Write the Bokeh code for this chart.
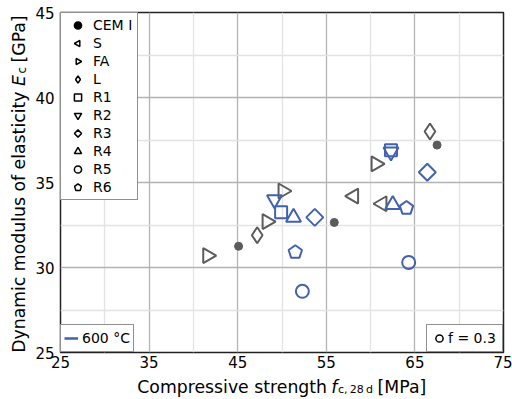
import numpy as np
from bokeh.plotting import figure
from bokeh.layouts import row, column
from bokeh.models import Range1d, FixedTicker, Legend, LegendItem
from bokeh.core.properties import value
from bokeh.embed import file_html
from bokeh.resources import INLINE

# ---- data ----
x_ticks = [25, 35, 45, 55, 65, 75]
x_minor = [30, 40, 50, 60, 70]
y_ticks = [25, 30, 35, 40, 45]
y_minor = [27.5, 32.5, 37.5, 42.5]

cem_x = [45.1, 55.9, 67.5]
cem_y = [31.25, 32.65, 37.2]
s_x = [58.1, 61.3]
s_y = [34.2, 33.75]
fa_x = [41.6, 48.3, 50.1, 60.6]
fa_y = [30.7, 32.7, 34.5, 36.1]
l_x = [47.2, 66.7]
l_y = [31.9, 38.0]
r1_x = [49.9, 62.3]
r1_y = [33.25, 36.9]
r2_x = [49.15, 62.3]
r2_y = [34.0, 36.8]
r3_x = [53.7, 66.4]
r3_y = [32.95, 35.6]
r4_x = [51.3, 62.5]
r4_y = [32.95, 33.7]
r5_x = [52.3, 64.3]
r5_y = [28.6, 30.3]
r6_x = [51.5, 64.05]
r6_y = [30.9, 33.5]

legend_labels = ["CEM I", "S", "FA", "L", "R1", "R2", "R3", "R4", "R5", "R6"]

GRAY = "#5b5b5b"
BLUE = "#4262ad"
FONT = "DejaVu Sans"
LW = 2
NAN = [float("nan")]

# ---- main plot ----
p = figure(width=482, height=374, output_backend="svg", toolbar_location=None,
           title=None, x_range=Range1d(25, 75), y_range=Range1d(25, 45),
           min_border_left=30, min_border_right=9, min_border_top=12,
           min_border_bottom=22, background_fill_color="white",
           border_fill_color="white")

p.xaxis.ticker = FixedTicker(ticks=x_ticks, minor_ticks=x_minor)
p.yaxis.ticker = FixedTicker(ticks=y_ticks, minor_ticks=y_minor)
for ax in (p.xaxis[0], p.yaxis[0]):
    ax.axis_line_color = None
    ax.major_tick_line_color = None
    ax.minor_tick_line_color = None
    ax.major_tick_out = 0
    ax.major_tick_in = 0
    ax.minor_tick_out = 0
    ax.minor_tick_in = 0
    ax.major_label_text_font = FONT
    ax.major_label_text_font_size = "15px"
    ax.major_label_text_color = "black"
p.xaxis.major_label_standoff = 3
p.yaxis.major_label_standoff = 6

for g in (p.xgrid[0], p.ygrid[0]):
    g.grid_line_color = "#b3b3b3"
    g.grid_line_width = 1.3
    g.minor_grid_line_color = "#e3e3e3"
    g.minor_grid_line_width = 1.3

p.outline_line_color = "#222222"
p.outline_line_width = 1.5

# ---- data marks ----
p.scatter(cem_x, cem_y, marker="circle", size=8, fill_color=GRAY, line_color=GRAY)
p.scatter(s_x, s_y, marker="triangle", angle=np.pi / 2, size=15,
          fill_color=None, line_color=GRAY, line_width=LW)
p.scatter(fa_x, fa_y, marker="triangle", angle=-np.pi / 2, size=15,
          fill_color=None, line_color=GRAY, line_width=LW)
p.scatter(l_x, l_y, marker="diamond", size=16,
          fill_color=None, line_color=GRAY, line_width=LW)
p.scatter(r1_x, r1_y, marker="square", size=12,
          fill_color=None, line_color=BLUE, line_width=LW)
p.scatter(r2_x, r2_y, marker="inverted_triangle", size=15,
          fill_color=None, line_color=BLUE, line_width=LW)
p.scatter(r3_x, r3_y, marker="square", angle=np.pi / 4, size=12,
          fill_color=None, line_color=BLUE, line_width=LW)
p.scatter(r4_x, r4_y, marker="triangle", size=15,
          fill_color=None, line_color=BLUE, line_width=LW)
p.scatter(r5_x, r5_y, marker="circle", size=13,
          fill_color=None, line_color=BLUE, line_width=LW)
use_ngon = hasattr(p, "ngon")
if use_ngon:
    p.ngon(x=r6_x, y=r6_y, radius=7, radius_units="screen", n=5,
           fill_color=None, line_color=BLUE, line_width=LW)
else:
    p.scatter(r6_x, r6_y, marker="hex", size=13,
              fill_color=None, line_color=BLUE, line_width=LW)

# ---- legend-only renderers (nothing drawn in the plot) ----
def dummy(marker, angle=0.0, filled=False):
    return p.scatter(NAN, NAN, marker=marker, angle=angle,
                     fill_color="black" if filled else None,
                     line_color="black", line_width=1.5)

def dummy_ngon(n, angle=0.0, fallback="triangle"):
    if use_ngon:
        return p.ngon(x=NAN, y=NAN, radius=4, radius_units="screen", n=n,
                      angle=angle, fill_color=None, line_color="black",
                      line_width=1.5)
    return dummy(fallback, angle)

d_renderers = [
    dummy("circle", filled=True),
    dummy_ngon(3, np.pi / 2),
    dummy_ngon(3, -np.pi / 2),
    dummy("diamond"),
    dummy("square"),
    dummy("inverted_triangle"),
    dummy_ngon(4, 0.0, "diamond"),
    dummy("triangle"),
    dummy("circle"),
    dummy_ngon(5, 0.0, "hex"),
]

common = dict(margin=0, label_text_font=FONT, label_text_font_size="14px",
              label_text_color="black", border_line_color="#222222",
              border_line_width=1.5, background_fill_color="white",
              background_fill_alpha=1.0)

leg1 = Legend(items=[LegendItem(label=l, renderers=[r]) for l, r in zip(legend_labels, d_renderers)],
              location="top_left", padding=3, spacing=0, glyph_width=27,
              glyph_height=18, label_standoff=2, label_width=41, label_height=18,
              **common)
p.add_layout(leg1)

line_dummy = p.line(NAN * 2, NAN * 2, line_color=BLUE, line_width=2.5)
leg2 = Legend(items=[LegendItem(label="600 °C", renderers=[line_dummy])],
              location="bottom_left", padding=3, spacing=0, glyph_width=14,
              glyph_height=20, label_standoff=4, label_height=16, **common)
p.add_layout(leg2)

circ_dummy = dummy("circle")
leg3 = Legend(items=[LegendItem(label="f = 0.3", renderers=[circ_dummy])],
              location="bottom_right", padding=3, spacing=0, glyph_width=18,
              glyph_height=20, label_standoff=0, label_width=51, label_height=16,
              **common)
p.add_layout(leg3)

# ---- axis-title strips (pixel coordinates inside each strip) ----
def strip(w, h):
    f = figure(width=w, height=h, output_backend="svg", toolbar_location=None,
               title=None, x_range=Range1d(0, w), y_range=Range1d(0, h),
               x_axis_type=None, y_axis_type=None, min_border=0,
               background_fill_color="white", border_fill_color="white")
    f.outline_line_color = None
    return f

def txt(f, s, x, y, size="17.3px", style="normal", align="left", angle=0.0):
    f.text(x=[x], y=[y], text=[s], text_font=value(FONT),
           text_font_size=value(size), text_font_style=style,
           text_align=align, text_baseline="alphabetic", angle=angle,
           text_color="black")

xt = strip(482, 25)
txt(xt, "Compressive strength", 290, 12.5, align="right")
txt(xt, "f", 294.5, 12.5, style="italic")
txt(xt, "c,\u200928\u2009d", 302, 10, size="11px")
txt(xt, "[MPa]", 345, 12.5)

yt = strip(30, 399)
A = np.pi / 2
txt(yt, "Dynamic modulus of elasticity", 18.5, 308, align="right", angle=A)
txt(yt, "E", 18.5, 313.5, style="italic", angle=A)
txt(yt, "c", 21, 326, size="12px", angle=A)
txt(yt, "[GPa]", 18.5, 337, angle=A)

layout = row(yt, column(p, xt, spacing=0), spacing=0)

open("out.html", "w").write(file_html(layout, INLINE))
